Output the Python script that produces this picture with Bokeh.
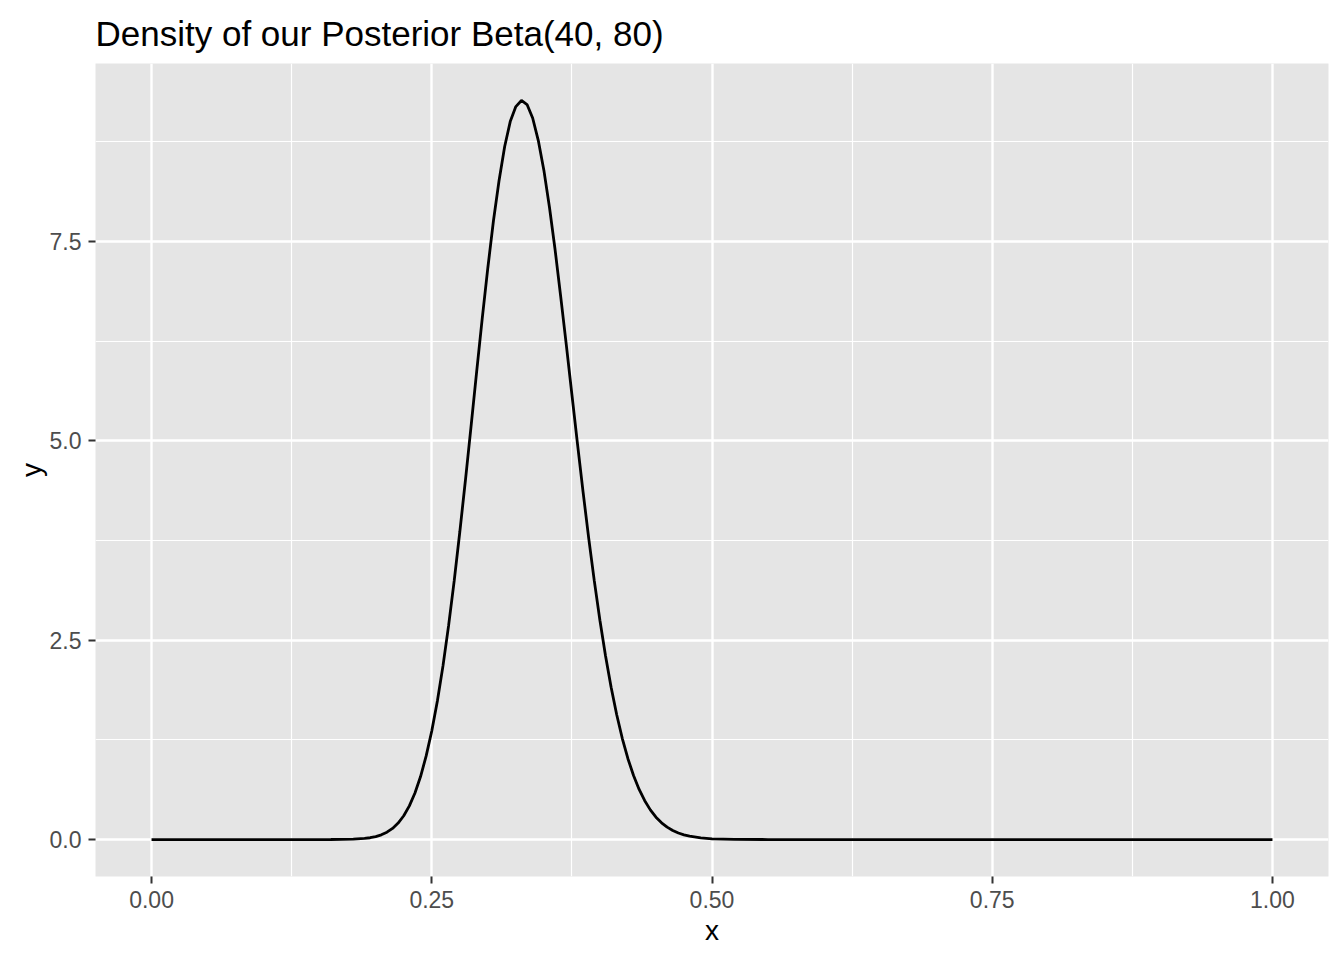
from bokeh.plotting import figure
from bokeh.models import Range1d, FixedTicker, NumeralTickFormatter
from bokeh.embed import file_html
from bokeh.resources import INLINE

# Values
x_vals = [0.00, 0.05, 0.10, 0.15, 0.16, 0.17, 0.18, 0.19, 0.195, 0.20, 0.205,
          0.21, 0.215, 0.22, 0.225, 0.23, 0.235, 0.24, 0.245, 0.25, 0.255,
          0.26, 0.265, 0.27, 0.275, 0.28, 0.285, 0.29, 0.295, 0.30, 0.305,
          0.31, 0.315, 0.32, 0.325, 0.33, 0.335, 0.34, 0.345, 0.35, 0.355,
          0.36, 0.365, 0.37, 0.375, 0.38, 0.385, 0.39, 0.395, 0.40, 0.405,
          0.41, 0.415, 0.42, 0.425, 0.43, 0.435, 0.44, 0.445, 0.45, 0.455,
          0.46, 0.465, 0.47, 0.475, 0.48, 0.49, 0.50, 0.52, 0.55,
          0.60, 0.70, 0.80, 0.90, 1.00]
density = [0.0, 0.0, 0.0, 0.0001, 0.0003, 0.0012, 0.0043, 0.0134, 0.0226, 0.037, 0.0592,
           0.092, 0.1397, 0.207, 0.2984, 0.422, 0.584, 0.790, 1.049, 1.362, 1.738,
           2.178, 2.683, 3.244, 3.857, 4.503, 5.175, 5.863, 6.533, 7.169, 7.758,
           8.263, 8.689, 9.005, 9.193, 9.270, 9.219, 9.050, 8.770, 8.396, 7.931,
           7.400, 6.813, 6.208, 5.583, 4.963, 4.357, 3.781, 3.244, 2.750, 2.305,
           1.911, 1.565, 1.267, 1.014, 0.803, 0.628, 0.487, 0.372, 0.281, 0.210,
           0.156, 0.1137, 0.082, 0.0588, 0.042, 0.0200, 0.0092, 0.0017, 0.0001,
           0.0, 0.0, 0.0, 0.0, 0.0]

x_ticks = [0.0, 0.25, 0.5, 0.75, 1.0]
x_minor = [0.125, 0.375, 0.625, 0.875]
y_ticks = [0.0, 2.5, 5.0, 7.5]
y_minor = [1.25, 3.75, 6.25, 8.75]

title_text = "Density of our Posterior Beta(40, 80)"
FONT = "Liberation Sans"

ymax = max(density)
p = figure(width=1336, height=952, output_backend="svg", toolbar_location=None,
           x_range=Range1d(-0.05, 1.05), y_range=Range1d(-0.05 * ymax, 1.05 * ymax),
           title=title_text)

p.min_border_left = 95
p.min_border_right = 8
p.min_border_top = 62
p.min_border_bottom = 76

p.background_fill_color = "#E5E5E5"
p.border_fill_color = "white"
p.outline_line_color = None

p.title.text_font = FONT
p.title.text_font_size = "35px"
p.title.text_font_style = "normal"
p.title.text_color = "black"
p.title.text_line_height = 0.85
p.title.offset = 0
p.title.standoff = 22

p.line(x_vals, density, line_color="black", line_width=2.8)

for ax, ticks, minor, fmt in ((p.xaxis[0], x_ticks, x_minor, "0.00"),
                              (p.yaxis[0], y_ticks, y_minor, "0.0")):
    ax.ticker = FixedTicker(ticks=ticks, minor_ticks=minor)
    ax.formatter = NumeralTickFormatter(format=fmt)
    ax.axis_line_color = None
    ax.major_tick_line_color = "#333333"
    ax.major_tick_line_width = 2
    ax.major_tick_out = 7
    ax.major_tick_in = 0
    ax.minor_tick_line_color = None
    ax.major_label_text_font = FONT
    ax.major_label_text_font_size = "23px"
    ax.major_label_text_color = "#4D4D4D"
    ax.axis_label_text_font = FONT
    ax.axis_label_text_font_size = "28px"
    ax.axis_label_text_font_style = "normal"
    ax.axis_label_text_color = "black"

p.xaxis[0].major_label_standoff = 7
p.xaxis[0].axis_label_standoff = 4
p.yaxis[0].major_label_standoff = 7
p.yaxis[0].axis_label_standoff = 0

p.xaxis.axis_label = "x"
p.yaxis.axis_label = "y"

for g in (p.xgrid[0], p.ygrid[0]):
    g.grid_line_color = "white"
    g.grid_line_width = 2.4
    g.minor_grid_line_color = "white"
    g.minor_grid_line_width = 1.2

p.xgrid[0].ticker = FixedTicker(ticks=x_ticks, minor_ticks=x_minor)
p.ygrid[0].ticker = FixedTicker(ticks=y_ticks, minor_ticks=y_minor)

open("out.html", "w").write(file_html(p, INLINE))
